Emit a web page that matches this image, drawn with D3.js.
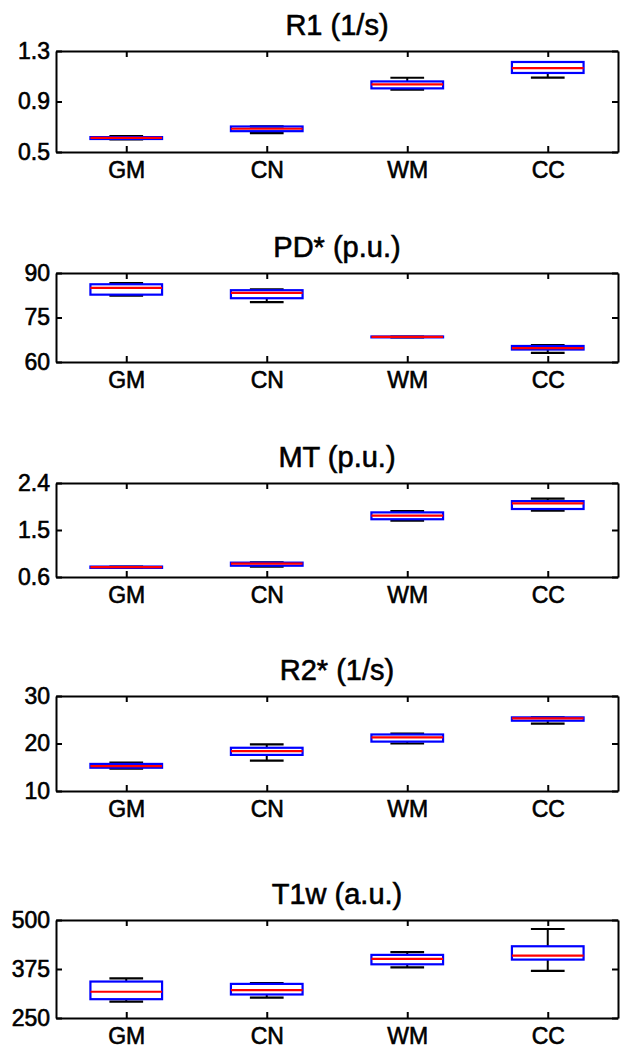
<!DOCTYPE html>
<html>
<head>
<meta charset="utf-8">
<script src="https://cdn.jsdelivr.net/npm/d3@7/dist/d3.min.js"></script>
<style>
  html, body { margin: 0; padding: 0; background: #fff; }
  svg { display: block; }
  text { font-family: "Liberation Sans", Arial, sans-serif; fill: #000; stroke: #000; stroke-width: 0.6px; }
</style>
</head>
<body>
<script>
// ---------- data ----------
const categories = ["GM", "CN", "WM", "CC"];
const titles = ["R1 (1/s)", "PD* (p.u.)", "MT (p.u.)", "R2* (1/s)", "T1w (a.u.)"];
const yTicks = [[0.5, 0.9, 1.3], [60, 75, 90], [0.6, 1.5, 2.4], [10, 20, 30], [250, 375, 500]];

// R1
const r1Low  = [0.600, 0.650, 0.993, 1.089];
const r1Q1   = [0.603, 0.665, 1.004, 1.126];
const r1Med  = [0.612, 0.684, 1.035, 1.165];
const r1Q3   = [0.618, 0.702, 1.059, 1.213];
const r1High = [0.626, 0.703, 1.088, 1.213];
// PD*
const pdLow  = [82.4, 80.2, 68.3, 63.1];
const pdQ1   = [82.7, 81.5, 68.3, 64.2];
const pdMed  = [85.0, 83.3, 68.45, 64.7];
const pdQ3   = [86.2, 84.2, 68.6, 65.4];
const pdHigh = [86.6, 84.5, 68.6, 65.7];
// MT
const mtLow  = [0.775, 0.80, 1.68, 1.87];
const mtQ1   = [0.775, 0.816, 1.706, 1.902];
const mtMed  = [0.79, 0.855, 1.775, 2.01];
const mtQ3   = [0.80, 0.875, 1.837, 2.053];
const mtHigh = [0.80, 0.88, 1.86, 2.10];
// R2*
const r2Low  = [14.7, 16.4, 20.0, 24.2];
const r2Q1   = [14.9, 17.6, 20.4, 24.8];
const r2Med  = [15.25, 18.4, 21.3, 25.3];
const r2Q3   = [15.7, 19.1, 21.9, 25.5];
const r2High = [16.0, 19.8, 22.1, 25.5];
// T1w
const t1Low  = [292, 302, 379, 370];
const t1Q1   = [298, 310, 387, 399];
const t1Med  = [317, 321, 401, 409];
const t1Q3   = [343, 337, 411, 433];
const t1High = [351, 339, 418, 477];

const panelsData = [
  [r1Low, r1Q1, r1Med, r1Q3, r1High],
  [pdLow, pdQ1, pdMed, pdQ3, pdHigh],
  [mtLow, mtQ1, mtMed, mtQ3, mtHigh],
  [r2Low, r2Q1, r2Med, r2Q3, r2High],
  [t1Low, t1Q1, t1Med, t1Q3, t1High]
];

// ---------- layout ----------
const W = 630, H = 1055;
const left = 56, right = 618;
const tops = [51, 273, 483, 696, 920];
const bottoms = [152, 362, 577, 791, 1018];

const svg = d3.select("body").append("svg").attr("width", W).attr("height", H);

const x = d3.scaleLinear().domain([0.5, 4.5]).range([left, right]);
const halfBox = 0.255, halfCap = 0.12;

panelsData.forEach((pd, p) => {
  const [lo, q1, med, q3, hi] = pd;
  const ticks = yTicks[p];
  const y = d3.scaleLinear().domain([ticks[0], ticks[ticks.length - 1]]).range([bottoms[p], tops[p]]);
  const g = svg.append("g");

  // title
  g.append("text")
    .attr("x", (left + right) / 2)
    .attr("y", tops[p] - 16)
    .attr("text-anchor", "middle")
    .style("font-size", "29px")
    .text(titles[p]);

  const boxes = g.append("g");
  categories.forEach((c, i) => {
    const cx = x(i + 1);
    const bg = boxes.append("g");
    // whiskers
    bg.append("line").attr("x1", cx).attr("x2", cx).attr("y1", y(q3[i])).attr("y2", y(hi[i]))
      .attr("stroke", "#000").attr("stroke-width", 2);
    bg.append("line").attr("x1", cx).attr("x2", cx).attr("y1", y(q1[i])).attr("y2", y(lo[i]))
      .attr("stroke", "#000").attr("stroke-width", 2);
    // caps
    [lo[i], hi[i]].forEach(v => {
      bg.append("line").attr("x1", x(i + 1 - halfCap)).attr("x2", x(i + 1 + halfCap))
        .attr("y1", y(v)).attr("y2", y(v)).attr("stroke", "#000").attr("stroke-width", 2.2);
    });
    // box
    bg.append("rect")
      .attr("x", x(i + 1 - halfBox)).attr("width", x(i + 1 + halfBox) - x(i + 1 - halfBox))
      .attr("y", y(q3[i])).attr("height", Math.max(0.5, y(q1[i]) - y(q3[i])))
      .attr("fill", "none").attr("stroke", "#0000ff").attr("stroke-width", 2.2);
    // median
    bg.append("line").attr("x1", x(i + 1 - halfBox)).attr("x2", x(i + 1 + halfBox))
      .attr("y1", y(med[i])).attr("y2", y(med[i]))
      .attr("stroke", "#ff0000").attr("stroke-width", 2.2);
  });

  // axes (MATLAB-style box with inward ticks)
  const yl = d3.axisLeft(y).tickValues(ticks).tickSizeInner(-6).tickSizeOuter(0)
    .tickPadding(6).tickFormat(d3.format(""));
  const yr = d3.axisRight(y).tickValues(ticks).tickSizeInner(-6).tickSizeOuter(0).tickFormat("");
  const xb = d3.axisBottom(x).tickValues([1, 2, 3, 4]).tickSizeInner(-6).tickSizeOuter(0)
    .tickPadding(10).tickFormat(d => categories[d - 1]);
  const xt = d3.axisTop(x).tickValues([1, 2, 3, 4]).tickSizeInner(-6).tickSizeOuter(0).tickFormat("");

  const ax = [
    g.append("g").attr("transform", `translate(${left},0)`).call(yl),
    g.append("g").attr("transform", `translate(${right},0)`).call(yr),
    g.append("g").attr("transform", `translate(0,${bottoms[p]})`).call(xb),
    g.append("g").attr("transform", `translate(0,${tops[p]})`).call(xt)
  ];
  ax.forEach(a => {
    a.selectAll("path").attr("stroke", "#000").attr("stroke-width", 2);
    a.selectAll("line").attr("stroke", "#000").attr("stroke-width", 2);
    a.selectAll("text").style("font-size", "23px").attr("fill", "#000")
      .style("font-family", "'Liberation Sans', Arial, sans-serif");
  });
});
</script>
</body>
</html>
